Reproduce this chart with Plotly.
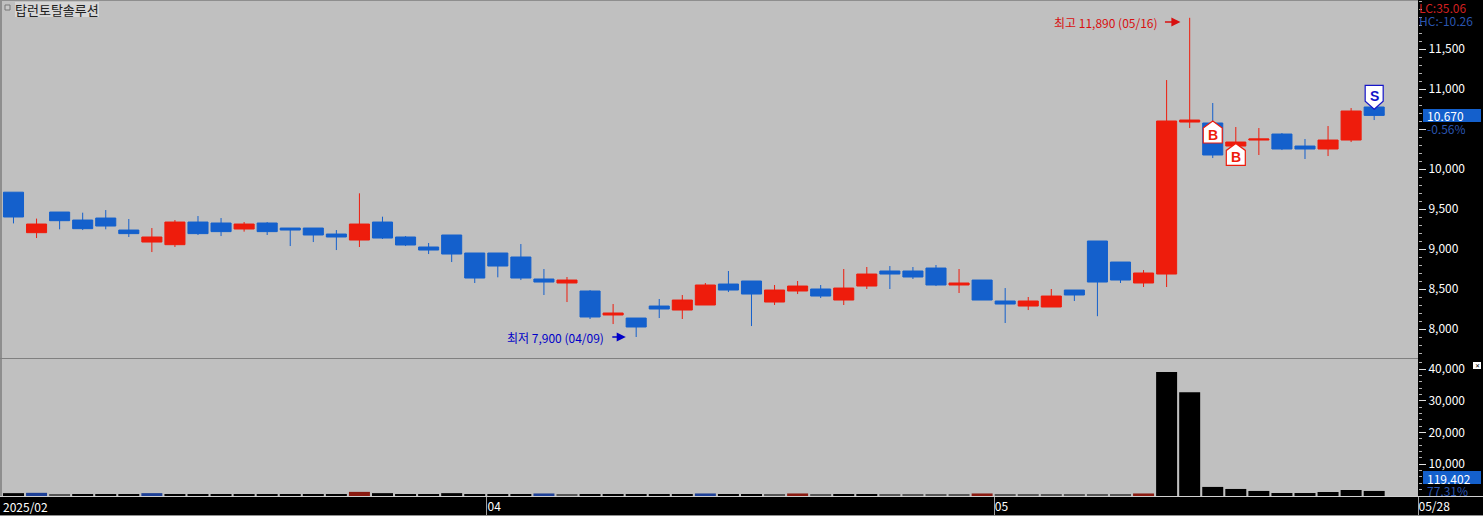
import plotly.graph_objects as go

W, H = 1483, 516
RIGHT, PANE_TOP, PANE_BOT = 1418, 358, 496

BLUE = "#1460CC"
RED = "#EE1C0C"
TXT_BLUE = "#2A55B0"
TXT_RED = "#D02020"
FONT = "Noto Sans CJK KR"

idx = list(range(60))
opens = [9710,9204,9462,9362,9387,9237,9087,9054,9337,9325,9250,9325,9262,9262,9187,9112,9337,9150,9025,9175,
         8950,8950,8900,8625,8575,8475,8175,8137,8287,8237,8300,8562,8600,8337,8475,8500,8362,8537,8725,8725,
         8762,8550,8612,8350,8287,8275,8487,9100,8837,8575,8687,10587,10575,10287,10362,10437,10287,10250,10362,10775]
closes = [9400,9312,9354,9254,9287,9192,9150,9337,9192,9217,9312,9217,9237,9175,9150,9312,9137,9050,8987,8937,
          8637,8787,8637,8587,8612,8150,8200,8025,8250,8362,8550,8487,8437,8487,8537,8412,8512,8687,8687,8650,
          8550,8575,8362,8312,8350,8412,8425,8587,8612,8700,10600,10612,10175,10337,10375,10250,10250,10362,10725,10670]
highs = [9710,9380,9462,9454,9487,9375,9262,9362,9412,9387,9337,9337,9262,9262,9237,9696,9404,9162,9075,9175,
         8950,8950,9062,8750,8650,8487,8312,8137,8375,8425,8575,8725,8600,8550,8600,8550,8750,8775,8787,8775,
         8800,8750,8612,8512,8400,8500,8487,9100,8837,8737,11112,11890,10825,10525,10512,10450,10375,10537,10762,10775]
lows = [9320,9137,9246,9237,9246,9150,8962,9025,9175,9162,9217,9175,9037,9087,8987,9025,9125,9037,8937,8837,
        8575,8646,8612,8425,8337,8125,8062,7900,8137,8125,8300,8462,8037,8300,8437,8387,8300,8500,8500,8625,
        8537,8450,8362,8075,8237,8275,8350,8160,8575,8525,8525,10512,10137,10175,10175,10237,10125,10162,10337,10612]

volume = [900,1000,350,600,600,600,900,600,600,600,600,600,600,600,600,1300,900,600,600,900,
          600,600,600,800,350,600,600,600,600,600,800,600,600,350,800,350,600,600,350,350,
          350,350,800,350,350,350,350,350,350,800,39050,32700,2860,2220,1590,950,950,1270,1900,1590]
K, B, R, G = "#000000", "#1C3F96", "#8A1A10", "#555555"
vol_colors = [K,B,G,K,K,K,B,K,K,K,K,K,K,K,K,R,K,K,K,K,
              K,K,K,B,G,K,K,K,K,K,B,K,K,G,R,G,K,K,G,G,
              G,G,R,G,G,G,G,G,G,R,K,K,K,K,K,K,K,K,K,K]

price_ticks = [8000,8500,9000,9500,10000,10500,11000,11500]
price_labels = ["8,000","8,500","9,000","9,500","10,000","","11,000","11,500"]
vol_ticks = [10000,20000,30000,40000]
date_pos = [20.53,42.53,60.9]
date_labels = ["04","05","05/28"]
signal_idx = [52,53,59]
signal_price = [10600,10320,10746]
signal_text = ["B","B","S"]

def px(x): return x / W
def py(y): return 1 - y / H

fig = go.Figure()
fig.add_trace(go.Candlestick(
    x=idx, open=opens, high=highs, low=lows, close=closes, xaxis="x", yaxis="y",
    increasing=dict(line=dict(color=RED, width=1), fillcolor=RED),
    decreasing=dict(line=dict(color=BLUE, width=1), fillcolor=BLUE),
    whiskerwidth=0, hoverinfo="skip", showlegend=False))
fig.add_trace(go.Bar(x=idx, y=volume, xaxis="x2", yaxis="y2",
                     marker=dict(color=vol_colors, line=dict(width=0)),
                     hoverinfo="skip", showlegend=False))

shapes, ann = [], []

def label(x, y, text, color="white", size=12, xanchor="left", **kw):
    d = dict(xref="paper", yref="paper", x=px(x), y=py(y), text=text, showarrow=False,
             xanchor=xanchor, yanchor="middle", font=dict(family=FONT, size=size, color=color),
             borderpad=0, borderwidth=0)
    d.update(kw)
    ann.append(d)

def box(x0, y0, x1, y1, c, line=None):
    shapes.append(dict(type="rect", xref="paper", yref="paper", x0=px(x0), x1=px(x1), y0=py(y0), y1=py(y1),
                       line=line or dict(width=0), fillcolor=c, layer="above"))

# frame
for x0, y0, x1, y1, c in [(0,0,2,358,"#8E8E8E"),(0,0,RIGHT,1,"#8E8E8E"),
                          (0,358,RIGHT,359,"#808080"),(0,496,1483,497,"#D0D0D0"),(0,515,1483,516,"#909090"),
                          (0,359,2,496,"#8E8E8E")]:
    box(x0, y0, x1, y1, c)

# signals
for i, p, t in zip(signal_idx, signal_price, signal_text):
    col = RED if t == "B" else "#1414C8"
    path = ("M 0 0 L 9.5 -7 L 9.5 -22 L -9.5 -22 L -9.5 -7 Z" if t == "B"
            else "M 0 0 L 9 8 L 9 24 L -9 24 L -9 8 Z")
    shapes.append(dict(type="path", xref="x", yref="y", xsizemode="pixel", ysizemode="pixel",
                       xanchor=i, yanchor=p, path=path, fillcolor="white",
                       line=dict(color=col, width=1.2), layer="above"))
    ann.append(dict(xref="x", yref="y", x=i, y=p, yshift=(-14 if t == "B" else 13), text=f"<b>{t}</b>",
                    showarrow=False, font=dict(family="Liberation Sans", size=14, color=col)))

# high / low callouts
ann.append(dict(xref="x", yref="y", x=50.6, y=11837, axref="pixel", ayref="pixel", ax=-17, ay=0, text="",
                showarrow=True, arrowhead=2, arrowsize=1.3, arrowwidth=1.4, arrowcolor="#D81010"))
ann.append(dict(xref="x", yref="y", x=50.6, y=11837, xshift=-20, xanchor="right", text="최고 11,890 (05/16)",
                showarrow=False, font=dict(family=FONT, size=12, color="#D81010")))
ann.append(dict(xref="x", yref="y", x=26.55, y=7900, axref="pixel", ayref="pixel", ax=-15, ay=0, text="",
                showarrow=True, arrowhead=2, arrowsize=1.3, arrowwidth=1.4, arrowcolor="#0000C8"))
ann.append(dict(xref="x", yref="y", x=26.55, y=7900, xshift=-20, xanchor="right", text="최저 7,900 (04/09)",
                showarrow=False, font=dict(family=FONT, size=12, color="#0000C8")))

# title
label(15, 9, "탑런토탈솔루션", color="#202020", size=13, bgcolor="#D6D6D6", height=15)
box(5, 5, 10, 10, "#C8C8C8", dict(color="#777777", width=1))

# read-outs
box(1423, 109, 1481, 122, BLUE)
box(1423, 471, 1481, 484, BLUE)
label(3, 506, "2025/02")
label(1419, 7, "LC:35,06", color=TXT_RED, height=12)
label(1419, 20, "HC:-10,26", color=TXT_BLUE, height=12)
label(1427, 115.5, "10,670", height=12)
label(1427, 128, "-0,56%", color=TXT_BLUE, height=12)
label(1427, 477.5, "119,402", height=12)
label(1427, 490, "77,31%", color=TXT_BLUE, height=12)
label(1473, 365.5, "✕", color="black", size=6, bgcolor="white", width=8, height=7, align="center")

axis_font = dict(family=FONT, size=12, color="white")
fig.update_layout(
    width=W, height=H, autosize=False,
    margin=dict(l=0, r=0, t=0, b=0, pad=0, autoexpand=False),
    paper_bgcolor="black", plot_bgcolor="#C0C0C0", showlegend=False,
    bargap=0.09, boxgap=0.13, boxgroupgap=0,
    font=axis_font, shapes=shapes, annotations=ann,
    xaxis=dict(domain=[0, RIGHT / W], range=[-0.585, 60.9], anchor="y", matches="x2", showticklabels=False,
               ticks="", showgrid=False, zeroline=False, rangeslider=dict(visible=False), showline=False,
               automargin=False),
    yaxis=dict(domain=[py(PANE_TOP), 1], range=[7637.5, 12112.5], anchor="x", side="right",
               tickvals=price_ticks, ticktext=price_labels, ticks="outside", ticklen=7, tickcolor="#E0E0E0",
               showgrid=False, zeroline=False, showline=False, automargin=False,
               minor=dict(dtick=100, ticks="outside", ticklen=3, tickcolor="#B0B0B0", showgrid=False)),
    xaxis2=dict(domain=[0, RIGHT / W], range=[-0.585, 60.9], anchor="y2", tickvals=date_pos, ticktext=date_labels,
                ticks="outside", ticklen=18, tickcolor="#A0A0A0", ticklabelposition="outside right",
                ticklabeloverflow="allow", showgrid=False, zeroline=False, showline=False,
                tickfont=axis_font, automargin=False),
    yaxis2=dict(domain=[py(PANE_BOT), py(PANE_TOP)], range=[0, 43490], anchor="x2", side="right",
                tickvals=vol_ticks, tickformat=",d", ticks="outside", ticklen=7, tickcolor="#E0E0E0",
                showgrid=False, zeroline=False, showline=False, automargin=False,
                minor=dict(dtick=2000, ticks="outside", ticklen=3, tickcolor="#B0B0B0", showgrid=False)),
)

fig.write_html("out.html", config=dict(displayModeBar=False),
               post_script="document.body.style.margin='0';document.body.style.overflow='hidden';")
